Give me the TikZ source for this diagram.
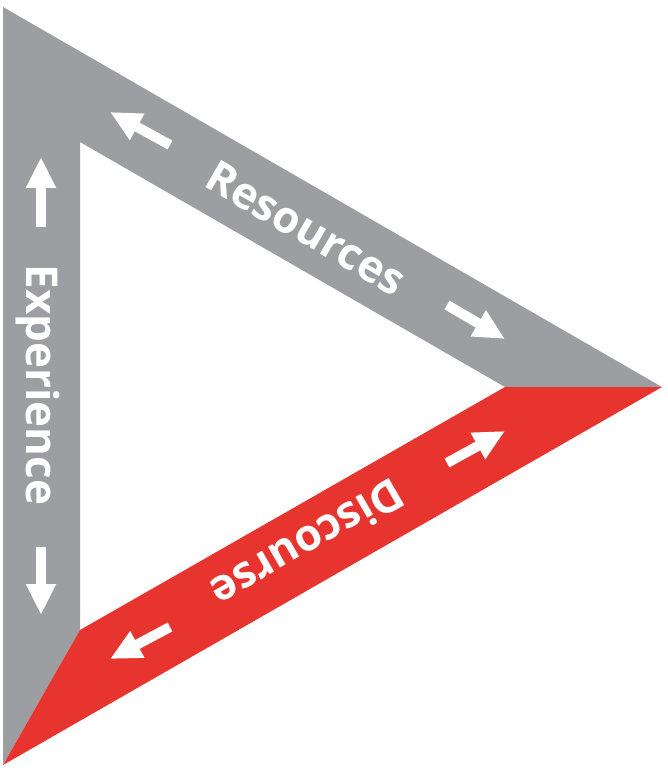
\documentclass[tikz,border=0pt]{standalone}
\usepackage{fontspec}
\setmainfont{Open Sans}
\usetikzlibrary{arrows.meta}
\definecolor{bargrey}{RGB}{157,158,162}
\definecolor{barred}{RGB}{232,52,46}
\tikzset{
  flow/.style={white,line width=0.2cm,-{Triangle[width=0.56cm,length=0.62cm]}},
  barlabel/.style={white,inner sep=0pt,font=\fontsize{25}{30}\selectfont\bfseries}
}
\begin{document}
\begin{tikzpicture}[x=0.02cm,y=-0.02cm]
\useasboundingbox (0,0) rectangle (668,770);
% corners
\coordinate (ot) at (3,7);
\coordinate (ob) at (3,765);
\coordinate (or) at (662,387);
\coordinate (it) at (80,142);
\coordinate (ib) at (80,630);
\coordinate (ir) at (505,387);
\fill[bargrey] (ot) -- (or) -- (ir) -- (it) -- (ib) -- (ob) -- cycle;
\fill[barred] (ob) -- (ib) -- (ir) -- (or) -- cycle;
% labels
\node[barlabel,rotate=-30] (res) at (306,228) {Resources};
\node[barlabel,rotate=-90] (exp) at (38,385) {Experience};
\node[barlabel,rotate=210] (dis) at (308,544) {Discourse};
% arrows
\coordinate (e1) at (41,227); \coordinate (e2) at (41,157);
\coordinate (e3) at (41,547); \coordinate (e4) at (41,615);
\coordinate (r1) at (170,145); \coordinate (r2) at (110,112);
\coordinate (r3) at (447,305); \coordinate (r4) at (505,339);
\coordinate (d1) at (447,463); \coordinate (d2) at (505,431);
\coordinate (d3) at (170,627); \coordinate (d4) at (110,659);
\draw[flow] (e1) -- (e2);
\draw[flow] (e3) -- (e4);
\draw[flow] (r1) -- (r2);
\draw[flow] (r3) -- (r4);
\draw[flow] (d1) -- (d2);
\draw[flow] (d3) -- (d4);
\end{tikzpicture}
\end{document}
